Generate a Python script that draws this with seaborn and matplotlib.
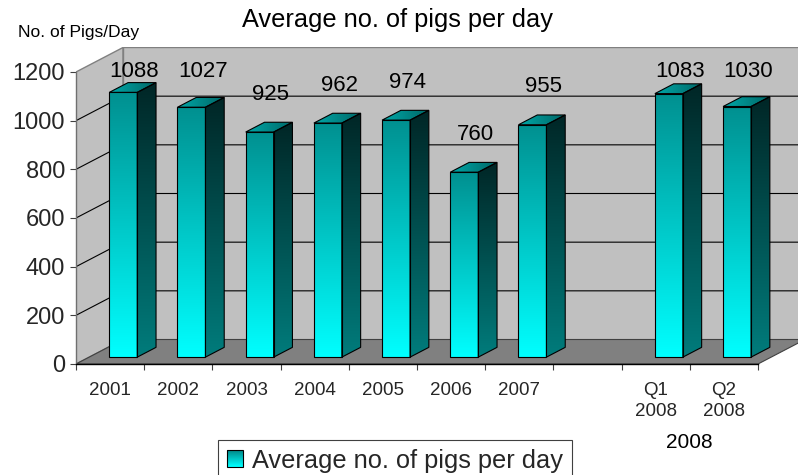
import numpy as np
import pandas as pd
import matplotlib
matplotlib.use("Agg")
import matplotlib.pyplot as plt
import matplotlib.transforms as mtransforms
import seaborn as sns
from matplotlib.patches import Polygon, Rectangle
from matplotlib.colors import LinearSegmentedColormap
from matplotlib.legend_handler import HandlerBase

# x-axis slots; the blank slot separates the yearly and the quarterly figures
categories = ["2001", "2002", "2003", "2004", "2005", "2006", "2007", " ", "Q1\n2008", "Q2\n2008"]
periods = ["2001", "2002", "2003", "2004", "2005", "2006", "2007", "Q1\n2008", "Q2\n2008"]
pigs_per_day = [1088, 1027, 925, 962, 974, 760, 955, 1083, 1030]
y_ticks = [0, 200, 400, 600, 800, 1000, 1200]
group_label = "2008"
title = "Average no. of pigs per day"
y_label = "No. of Pigs/Day"
series_name = "Average no. of pigs per day"

sns.set_theme(style="ticks")
plt.rcParams["font.family"] = ["Liberation Sans", "DejaVu Sans"]

W, H = 798, 475
fig = plt.figure(figsize=(W / 100, H / 100), dpi=100)
ax = fig.add_axes([76 / W, (H - 364) / H, 722 / W, 317 / H])
ax.patch.set_visible(False)

# oblique projection of the depth axis, expressed in data units
PX_X = 68.2            # pixels per category
PX_Y = 292 / 1200      # pixels per pig
DX = 47 / PX_X
DY = 24.5 / PX_Y
YMAX = y_ticks[-1]
XMIN, XMAX = -0.5, len(categories) - 0.5
D0, D1 = 0.28, 0.68    # depth span occupied by the columns
DD = D1 - D0
BAR_W = 0.41

df = pd.DataFrame({"period": periods, "pigs": pigs_per_day})
sns.barplot(data=df, x="period", y="pigs", order=categories, width=BAR_W,
            color="#00cccc", edgecolor="black", linewidth=0.8,
            errorbar=None, ax=ax)
bars = list(ax.patches)

# walls and floor
wall_col = "#c0c0c0"
ax.add_patch(Polygon([(XMIN, 0), (XMIN, YMAX), (XMIN + DX, YMAX + DY), (XMIN + DX, DY)],
                     fc=wall_col, ec="#808080", lw=1, zorder=0))
ax.add_patch(Polygon([(XMIN + DX, DY), (XMIN + DX, YMAX + DY), (XMAX + DX, YMAX + DY), (XMAX + DX, DY)],
                     fc=wall_col, ec="#808080", lw=1, zorder=0))
ax.add_patch(Polygon([(XMIN, 0), (XMAX, 0), (XMAX + DX, DY), (XMIN + DX, DY)],
                     fc="#808080", ec="#404040", lw=0.8, zorder=0.2))

# gridlines on the side wall and back wall
for v in y_ticks[1:-1]:
    ax.plot([XMIN, XMIN + DX, XMAX + DX], [v, v + DY, v + DY],
            color="black", lw=0.8, zorder=0.5, solid_joinstyle="miter")


def shade(xy, c_low, c_high, z, horizontal=False):
    poly = Polygon(xy, closed=True, transform=ax.transData, fc="none", ec="none")
    xs = [p[0] for p in xy]
    ys = [p[1] for p in xy]
    grad = np.linspace(0, 1, 256)
    grad = grad.reshape(1, -1) if horizontal else grad.reshape(-1, 1)
    cmap = LinearSegmentedColormap.from_list("face", [c_low, c_high])
    im = ax.imshow(grad, extent=[min(xs), max(xs), min(ys), max(ys)], origin="lower",
                   aspect="auto", cmap=cmap, zorder=z, interpolation="bilinear")
    im.set_clip_path(poly)


for rect, value in zip(bars, pigs_per_day):
    w = rect.get_width()
    x0 = rect.get_x() + D0 * DX
    y0 = D0 * DY
    rect.set_xy((x0, y0))
    rect.set_height(value)
    front = [(x0, y0), (x0 + w, y0), (x0 + w, y0 + value), (x0, y0 + value)]
    side = [(x0 + w, y0), (x0 + w + DD * DX, y0 + DD * DY),
            (x0 + w + DD * DX, y0 + value + DD * DY), (x0 + w, y0 + value)]
    top = [(x0, y0 + value), (x0 + w, y0 + value),
           (x0 + w + DD * DX, y0 + value + DD * DY), (x0 + DD * DX, y0 + value + DD * DY)]
    shade(front, "#00ffff", "#009090", 3)
    shade(side, "#007c7c", "#002626", 3)
    shade(top, "#00a8a8", "#006868", 3, horizontal=True)
    rect.set_facecolor("none")
    rect.set_zorder(6)
    for face in (side, top):
        ax.add_patch(Polygon(face, closed=True, fc="none", ec="black", lw=0.8, zorder=6))
    label_y = min(value + D1 * DY + 28 / PX_Y, YMAX)
    ax.text(x0 + w / 2 + DD * DX * 0.6, label_y, f"{value}", ha="center", va="center",
            fontsize=16, color="black", zorder=10)

ax.set_xlim(XMIN, XMIN + 722 / PX_X)
ax.set_ylim(0, 317 / PX_Y)
ax.set_xlabel("")
ax.set_ylabel("")

for s in ("top", "right"):
    ax.spines[s].set_visible(False)
ax.spines["left"].set_bounds(0, YMAX)
ax.spines["left"].set_color("#707070")
ax.spines["left"].set_linewidth(1)
ax.spines["left"].set_zorder(1)
ax.spines["bottom"].set_bounds(XMIN, XMAX)
ax.spines["bottom"].set_color("black")
ax.spines["bottom"].set_linewidth(1)

ax.set_yticks(y_ticks)
ax.set_yticklabels([str(t) for t in y_ticks])
ax.tick_params(axis="y", length=4.5, width=0.8, color="#404040", pad=3.5,
               labelsize=17, left=True, direction="out")

ax.set_xticks(range(len(categories)))
ax.set_xticklabels(categories, linespacing=1.3)
ax.set_xticks(np.arange(XMIN, XMAX + 0.01, 1), minor=True)
ax.tick_params(axis="x", which="major", length=0, pad=13, labelsize=13.5)
ax.tick_params(axis="x", which="minor", length=4.5, width=0.8, color="#404040",
               bottom=True, direction="out")

blend = mtransforms.blended_transform_factory(ax.transData, fig.transFigure)
ax.text(8.5, 1 - 442 / H, group_label, transform=blend, ha="center", va="center",
        fontsize=15, color="black")

fig.text(397 / W, 1 - 20 / H, title, ha="center", va="center", fontsize=18.3, color="black")
fig.text(18 / W, 1 - 32 / H, y_label, ha="left", va="center", fontsize=12.5, color="black")


class GradientSquare(HandlerBase):
    def create_artists(self, legend, orig_handle, xdescent, ydescent, width, height,
                       fontsize, trans):
        cmap = LinearSegmentedColormap.from_list("key", ["#00ffff", "#009090"])
        n = 16
        arts = []
        for i in range(n):
            arts.append(Rectangle((-xdescent, -ydescent + height * i / n), width,
                                  height / n * 1.05, fc=cmap(i / (n - 1)), ec="none",
                                  transform=trans))
        arts.append(Rectangle((-xdescent, -ydescent), width, height, fc="none",
                              ec="black", lw=0.8, transform=trans))
        return arts


key = Rectangle((0, 0), 1, 1)
leg = fig.legend([key], [series_name], handler_map={key: GradientSquare()},
                 loc="upper left", bbox_to_anchor=(218 / W, 1 - 440 / H),
                 fontsize=18.3, frameon=True, fancybox=False, edgecolor="#404040",
                 framealpha=1, borderpad=0.35, handlelength=0.65, handleheight=0.65,
                 handletextpad=0.35, borderaxespad=0)
leg.get_frame().set_linewidth(0.8)

fig.savefig("out.png", dpi=100)
